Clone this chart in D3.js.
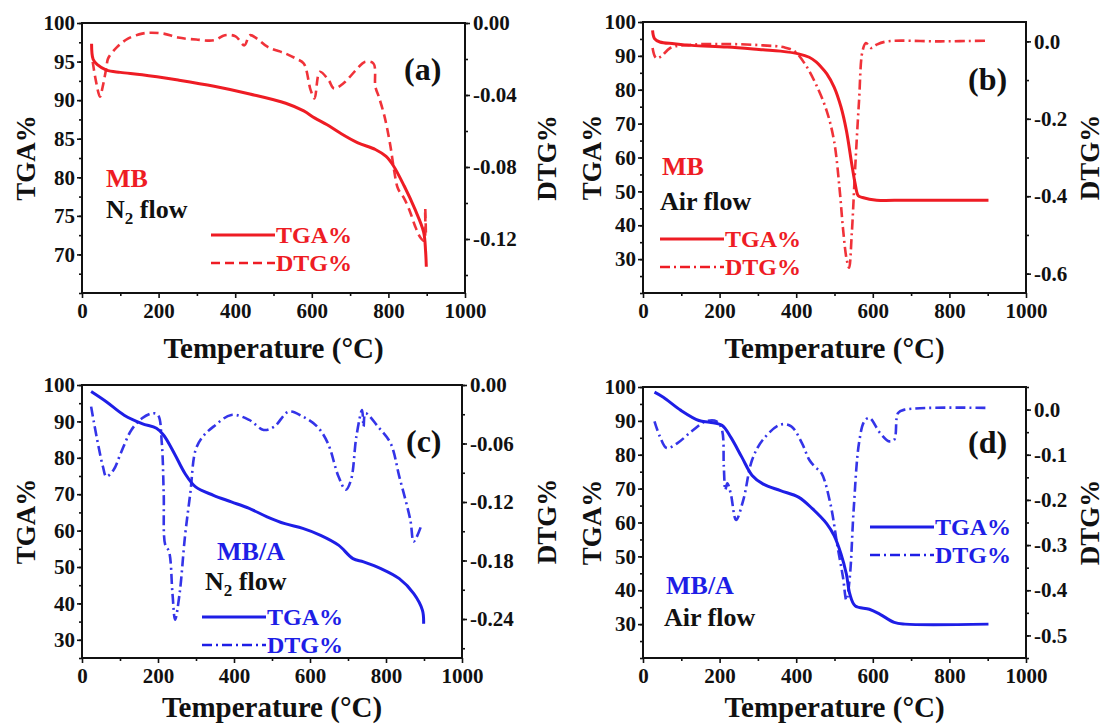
<!DOCTYPE html>
<html>
<head>
<meta charset="utf-8">
<script src="https://cdn.jsdelivr.net/npm/d3@7"></script>
<style>
  body { margin: 0; background: #fff; }
  svg { display: block; }
</style>
</head>
<body>
<div id="chart"></div>
<script>
const FONT = '"Liberation Serif", "Times New Roman", serif'
const RED = '#ee1c24'
const BLUE = '#1e1ee6'
const INK = '#111'

// temperature axis, shared by all four panels
const tempTicks = [0, 200, 400, 600, 800, 1000]

// (a) MB, N2 flow
const tgaTicksA = [70, 75, 80, 85, 90, 95, 100]
const dtgTicksA = [0, -0.04, -0.08, -0.12]
const tgaA = [[25, 97.3], [29, 95.3], [40, 94.6], [64, 93.9], [100, 93.6], [157, 93.3], [251, 92.6],
  [345, 91.8], [438, 90.8], [532, 89.6], [579, 88.6], [607, 87.7], [640, 86.8], [672, 85.8],
  [719, 84.5], [766, 83.6], [794, 82.7], [813, 81.5], [841, 78.9], [869, 75.9], [892, 72.9],
  [897, 70.5], [899, 68.4]]
const dtgA = [[28, -0.0216], [36, -0.0318], [47, -0.041], [54, -0.0354], [64, -0.0244], [68, -0.0198],
  [92, -0.0133], [120, -0.0087], [157, -0.0059], [176, -0.0054], [213, -0.0059], [251, -0.0081],
  [298, -0.0092], [345, -0.0096], [373, -0.0068], [401, -0.0074], [424, -0.0124], [438, -0.0068],
  [457, -0.0087], [485, -0.0133], [532, -0.017], [559, -0.0198], [579, -0.0225], [597, -0.0373],
  [607, -0.0419], [621, -0.0271], [644, -0.0318], [658, -0.0364], [682, -0.0336], [719, -0.0253],
  [738, -0.0216], [761, -0.0225], [766, -0.0354], [775, -0.041], [790, -0.052], [805, -0.068],
  [815, -0.082], [825, -0.092], [840, -0.097], [855, -0.104], [870, -0.113], [883, -0.119],
  [893, -0.121], [896, -0.103], [898, -0.118]]

// (b) MB, air flow
const tgaTicksB = [30, 40, 50, 60, 70, 80, 90, 100]
const dtgTicksB = [0, -0.2, -0.4, -0.6]
const tgaB = [[25, 97.5], [30, 95.1], [44, 94.1], [81, 93.6], [127, 93.1], [220, 92.6], [313, 91.8],
  [359, 91.4], [406, 90.6], [434, 89.6], [452, 88.2], [466, 86.6], [480, 84.7], [499, 80.8],
  [517, 74.9], [531, 68.0], [545, 58.1], [554, 52.2], [562, 48.7], [573, 48.2], [610, 47.4],
  [684, 47.4], [800, 47.4], [902, 47.4]]
const dtgB = [[25, -0.0172], [34, -0.043], [48, -0.0387], [71, -0.0172], [127, -0.0086], [220, -0.0069],
  [313, -0.0103], [369, -0.0155], [396, -0.0258], [424, -0.0602], [452, -0.1118], [480, -0.1806],
  [499, -0.258], [513, -0.3783], [522, -0.4815], [531, -0.5589], [538, -0.5847], [545, -0.4987],
  [554, -0.3267], [564, -0.1548], [573, -0.0258], [582, -0.0043], [596, -0.0172], [610, -0.0086],
  [638, 0], [777, 0], [902, 0.0017]]

// (c) MB/A, N2 flow
const tgaTicksC = [30, 40, 50, 60, 70, 80, 90, 100]
const dtgTicksC = [0, -0.06, -0.12, -0.18, -0.24]
const tgaC = [[24, 98.2], [64, 95.4], [111, 91.7], [158, 89.4], [196, 88.1], [215, 86.2], [243, 81.2],
  [271, 75.7], [299, 72.0], [346, 69.7], [393, 67.9], [440, 66.1], [487, 63.8], [534, 61.9],
  [581, 60.6], [628, 58.7], [675, 56.0], [713, 52.3], [741, 51.4], [788, 49.5], [835, 46.8],
  [873, 42.7], [896, 38.1], [899, 34.4]]
const dtgC = [[24, -0.0222], [40, -0.0563], [55, -0.0836], [64, -0.0939], [83, -0.0871], [102, -0.07],
  [130, -0.0461], [158, -0.0341], [186, -0.029], [200, -0.0307], [210, -0.0597], [215, -0.111],
  [219, -0.1639], [229, -0.1707], [238, -0.2134], [245, -0.2407], [257, -0.2134], [271, -0.1553],
  [285, -0.111], [299, -0.0666], [318, -0.0529], [346, -0.0427], [393, -0.0307], [440, -0.0358],
  [478, -0.0461], [506, -0.0427], [544, -0.0273], [581, -0.0324], [619, -0.0427], [647, -0.0597],
  [675, -0.0939], [694, -0.1075], [708, -0.0973], [722, -0.0529], [737, -0.0256], [741, -0.0427],
  [746, -0.029], [779, -0.0427], [812, -0.0597], [835, -0.0939], [864, -0.1383], [873, -0.1605],
  [892, -0.1451]]

// (d) MB/A, air flow
const tgaTicksD = [30, 40, 50, 60, 70, 80, 90, 100]
const dtgTicksD = [0, -0.1, -0.2, -0.3, -0.4, -0.5]
const tgaD = [[30, 98.5], [53, 97.0], [99, 93.1], [146, 90.1], [174, 89.6], [206, 88.7], [229, 85.2],
  [258, 79.3], [285, 73.9], [313, 71.4], [359, 69.4], [406, 67.5], [443, 64.0], [480, 59.6],
  [499, 56.1], [517, 50.7], [531, 44.8], [540, 38.9], [554, 35.4], [591, 34.4], [619, 32.9],
  [656, 30.5], [684, 30.0], [902, 30.0]]
const dtgD = [[30, -0.0259], [44, -0.0593], [62, -0.0852], [90, -0.0741], [127, -0.0481], [164, -0.0259],
  [192, -0.0259], [206, -0.0444], [211, -0.1259], [215, -0.1778], [220, -0.163], [229, -0.1852],
  [243, -0.2444], [262, -0.2], [285, -0.1111], [313, -0.0667], [359, -0.0333], [387, -0.037],
  [415, -0.0741], [434, -0.1111], [448, -0.1259], [466, -0.1407], [489, -0.2074], [508, -0.3037],
  [522, -0.3704], [531, -0.4222], [540, -0.3704], [550, -0.2222], [564, -0.0741], [578, -0.0259],
  [591, -0.0185], [619, -0.0519], [643, -0.0704], [656, -0.0667], [666, -0.0074], [684, 0],
  [902, 0.0037]]

const panels = [
  { letter: '(a)', left: 82, top: 23, width: 383, height: 270, color: RED,
    tga: tgaA, dtg: dtgA, tgaDomain: [65, 100], dtgDomain: [-0.15, 0],
    tgaTicks: tgaTicksA, tgaMinor: 2.5, dtgTicks: dtgTicksA, dtgMinor: 0.02, digits: 2,
    dash: '9,5', leftTitle: -47, rightTitle: 91, xTitle: 65,
    name: 'MB', nameAt: [106, 187], flow: 'N2', flowAt: [106, 218],
    legendAt: [211, 235], letterAt: [404, 80] },
  { letter: '(b)', left: 643, top: 22, width: 383, height: 271, color: RED,
    tga: tgaB, dtg: dtgB, tgaDomain: [20, 100], dtgDomain: [-0.65, 0.05],
    tgaTicks: tgaTicksB, tgaMinor: 5, dtgTicks: dtgTicksB, dtgMinor: 0.1, digits: 1,
    dash: '10,4,2,4', leftTitle: -42, rightTitle: 73, xTitle: 65,
    name: 'MB', nameAt: [662, 175], flow: 'Air', flowAt: [660, 210],
    legendAt: [660, 239], letterAt: [968, 90] },
  { letter: '(c)', left: 82, top: 385, width: 380, height: 273, color: BLUE,
    tga: tgaC, dtg: dtgC, tgaDomain: [25, 100], dtgDomain: [-0.28, 0],
    tgaTicks: tgaTicksC, tgaMinor: 5, dtgTicks: dtgTicksC, dtgMinor: 0.03, digits: 2,
    dash: '10,4,2,4', leftTitle: -47, rightTitle: 94, xTitle: 59,
    name: 'MB/A', nameAt: [217, 560], flow: 'N2', flowAt: [205, 590],
    legendAt: [202, 617], letterAt: [406, 452] },
  { letter: '(d)', left: 643, top: 387, width: 383, height: 271, color: BLUE,
    tga: tgaD, dtg: dtgD, tgaDomain: [20, 100], dtgDomain: [-0.55, 0.05],
    tgaTicks: tgaTicksD, tgaMinor: 5, dtgTicks: dtgTicksD, dtgMinor: 0.05, digits: 1,
    dash: '10,4,2,4', leftTitle: -42, rightTitle: 73, xTitle: 59,
    name: 'MB/A', nameAt: [666, 594], flow: 'Air', flowAt: [664, 626],
    legendAt: [870, 527], letterAt: [968, 453] }
]

const svg = d3
  .select('#chart')
  .append('svg')
  .attr('width', 1107)
  .attr('height', 727)
  .style('font-family', FONT)
  .style('font-weight', 'bold')

const styleAxis = g => {
  g.select('.domain').remove()
  g.selectAll('.tick line').attr('stroke', INK).attr('stroke-width', 1.6)
  g.selectAll('.tick text')
    .attr('font-family', FONT)
    .attr('font-weight', 'bold')
    .attr('font-size', 21)
    .attr('fill', INK)
}

const minors = (domain, step) =>
  d3.range(Math.ceil(domain[0] / step) * step, domain[1] + 1e-9, step)

panels.forEach(p => {
  const g = svg.append('g').attr('transform', `translate(${p.left},${p.top})`)

  const x = d3.scaleLinear().domain([0, 1000]).range([0, p.width])
  const yL = d3.scaleLinear().domain(p.tgaDomain).range([p.height, 0])
  const yR = d3.scaleLinear().domain(p.dtgDomain).range([p.height, 0])

  // axes: minor ticks first, then majors with labels
  g.append('g')
    .attr('transform', `translate(0,${p.height})`)
    .call(d3.axisBottom(x).tickValues(d3.range(100, 1000, 200)).tickSize(3).tickFormat(''))
    .call(styleAxis)
  g.append('g')
    .attr('transform', `translate(0,${p.height})`)
    .call(d3.axisBottom(x).tickValues(tempTicks).tickSize(5).tickPadding(5).tickFormat(d3.format('d')))
    .call(styleAxis)

  g.append('g')
    .call(d3.axisLeft(yL).tickValues(minors(p.tgaDomain, p.tgaMinor)).tickSize(3).tickFormat(''))
    .call(styleAxis)
  g.append('g')
    .call(d3.axisLeft(yL).tickValues(p.tgaTicks).tickSize(5).tickPadding(2).tickFormat(d3.format('d')))
    .call(styleAxis)

  g.append('g')
    .attr('transform', `translate(${p.width},0)`)
    .call(d3.axisRight(yR).tickValues(minors(p.dtgDomain, p.dtgMinor)).tickSize(3).tickFormat(''))
    .call(styleAxis)
  g.append('g')
    .attr('transform', `translate(${p.width},0)`)
    .call(d3.axisRight(yR).tickValues(p.dtgTicks).tickSize(5).tickPadding(3)
      .tickFormat(d => (d === 0 ? 0 : d).toFixed(p.digits)))
    .call(styleAxis)

  // frame
  g.append('rect')
    .attr('width', p.width)
    .attr('height', p.height)
    .attr('fill', 'none')
    .attr('stroke', INK)
    .attr('stroke-width', 2)

  const tgaLine = d3.line().x(d => x(d[0])).y(d => yL(d[1])).curve(d3.curveCatmullRom.alpha(0.5))
  const dtgLine = d3.line().x(d => x(d[0])).y(d => yR(d[1])).curve(d3.curveCatmullRom.alpha(0.5))

  g.append('path')
    .attr('d', dtgLine(p.dtg))
    .attr('fill', 'none')
    .attr('stroke', p.color)
    .attr('stroke-width', 2.6)
    .attr('stroke-dasharray', p.dash)
    .attr('opacity', 0.9)

  g.append('path')
    .attr('d', tgaLine(p.tga))
    .attr('fill', 'none')
    .attr('stroke', p.color)
    .attr('stroke-width', 3)

  // axis titles
  g.append('text')
    .attr('x', p.width / 2)
    .attr('y', p.height + p.xTitle)
    .attr('text-anchor', 'middle')
    .attr('font-size', 29)
    .attr('fill', INK)
    .text('Temperature (°C)')

  g.append('text')
    .attr('transform', `translate(${p.leftTitle},${p.height / 2}) rotate(-90)`)
    .attr('text-anchor', 'middle')
    .attr('font-size', 27)
    .attr('fill', INK)
    .text('TGA%')

  g.append('text')
    .attr('transform', `translate(${p.width + p.rightTitle},${p.height / 2}) rotate(-90)`)
    .attr('text-anchor', 'middle')
    .attr('font-size', 27)
    .attr('fill', INK)
    .text('DTG%')

  // sample, atmosphere, panel letter
  svg.append('text')
    .attr('x', p.nameAt[0])
    .attr('y', p.nameAt[1])
    .attr('font-size', 26)
    .attr('fill', p.color)
    .text(p.name)

  const flow = svg.append('text')
    .attr('x', p.flowAt[0])
    .attr('y', p.flowAt[1])
    .attr('font-size', 26)
    .attr('fill', INK)
  if (p.flow === 'N2') {
    flow.append('tspan').text('N')
    flow.append('tspan').attr('dy', 6).attr('font-size', 17).text('2')
    flow.append('tspan').attr('dy', -6).text(' flow')
  } else {
    flow.text('Air flow')
  }

  svg.append('text')
    .attr('x', p.letterAt[0])
    .attr('y', p.letterAt[1])
    .attr('font-size', 32)
    .attr('fill', INK)
    .text(p.letter)

  // legend
  const lg = svg.append('g').attr('transform', `translate(${p.legendAt[0]},${p.legendAt[1]})`)
  const rows = [{ label: 'TGA%', dash: null, w: 3 }, { label: 'DTG%', dash: p.dash, w: 2.6 }]
  rows.forEach((r, i) => {
    lg.append('line')
      .attr('x1', 0)
      .attr('x2', 64)
      .attr('y1', i * 28)
      .attr('y2', i * 28)
      .attr('stroke', p.color)
      .attr('stroke-width', r.w)
      .attr('stroke-dasharray', r.dash)
    lg.append('text')
      .attr('x', 65)
      .attr('y', i * 28 + 8)
      .attr('font-size', 24)
      .attr('fill', p.color)
      .text(r.label)
  })
})
</script>
</body>
</html>
